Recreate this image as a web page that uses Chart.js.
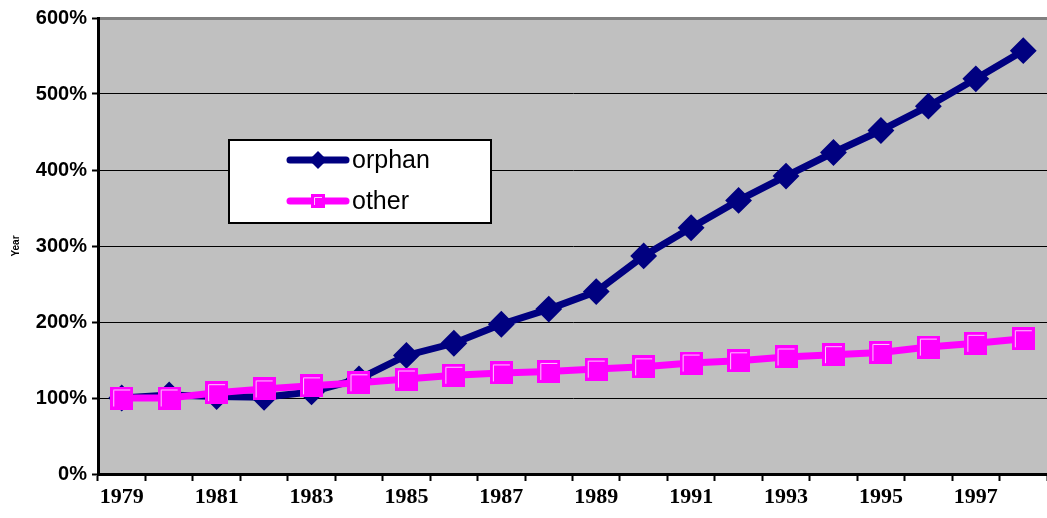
<!DOCTYPE html>
<html>
<head>
<meta charset="utf-8">
<script src="https://cdn.jsdelivr.net/npm/chart.js@4"></script>
<style>
  html, body { margin: 0; padding: 0; background: #fff; }
  #wrap { width: 1047px; height: 518px; }
</style>
</head>
<body>
<div id="wrap"><canvas id="chart" width="1047" height="518"></canvas></div>
<script>
const years = ['1979', '1980', '1981', '1982', '1983', '1984', '1985', '1986', '1987', '1988',
               '1989', '1990', '1991', '1992', '1993', '1994', '1995', '1996', '1997', '1998'];
const orphanValues = [100, 104, 102, 101, 108, 125, 156, 172, 197, 217,
                      240, 287, 324, 360, 392, 423, 452, 484, 520, 557];
const otherValues = [100, 100, 107, 112, 116, 120, 125, 130, 133, 135,
                     138, 141, 146, 149, 154, 157, 160, 167, 172, 178];
const yMax = 600;
const yStep = 100;

const sansFont = "Arial, 'Liberation Sans', sans-serif";
const serifFont = "'Times New Roman', 'Liberation Serif', serif";

// square marker with the little light bevel inside
function makeSquare(size) {
    const c = document.createElement('canvas');
    c.width = size; c.height = size;
    const g = c.getContext('2d');
    g.fillStyle = '#FF00FF';
    g.fillRect(0, 0, size, size);
    g.strokeStyle = '#FFC8FF';
    g.lineWidth = 1;
    g.beginPath();
    g.moveTo(3.5, size - 3);
    g.lineTo(3.5, 3.5);
    g.lineTo(size - 3, 3.5);
    g.stroke();
    return c;
}
const bigSquare = makeSquare(23);
const smallSquare = makeSquare(14);

const plotBackground = {
    id: 'plotBackground',
    beforeDraw(chart) {
        const { ctx, chartArea: a } = chart;
        ctx.save();
        ctx.fillStyle = '#C0C0C0';
        ctx.fillRect(a.left, a.top, a.right - a.left, a.bottom - a.top);
        ctx.restore();
    }
};

const boxLegend = {
    id: 'boxLegend',
    afterDraw(chart) {
        const ctx = chart.ctx;
        const x = 229, y = 140, w = 262, h = 83;
        ctx.save();
        ctx.fillStyle = '#fff';
        ctx.fillRect(x, y, w, h);
        ctx.strokeStyle = '#000';
        ctx.lineWidth = 2;
        ctx.strokeRect(x, y, w, h);
        const rows = [160, 201];
        chart.data.datasets.forEach((ds, i) => {
            const ry = rows[i];
            ctx.strokeStyle = ds.borderColor;
            ctx.lineWidth = 7;
            ctx.lineCap = 'round';
            ctx.beginPath();
            ctx.moveTo(290, ry);
            ctx.lineTo(346, ry);
            ctx.stroke();
            if (i === 0) {
                ctx.fillStyle = ds.borderColor;
                ctx.beginPath();
                ctx.moveTo(318, ry - 9);
                ctx.lineTo(327, ry);
                ctx.lineTo(318, ry + 9);
                ctx.lineTo(309, ry);
                ctx.closePath();
                ctx.fill();
            } else {
                ctx.drawImage(smallSquare, 318 - 7, ry - 7);
            }
            ctx.fillStyle = '#000';
            ctx.font = '25px ' + sansFont;
            ctx.textBaseline = 'middle';
            ctx.textAlign = 'left';
            ctx.fillText(ds.label, 352, ry + 1);
        });
        ctx.restore();
    }
};

new Chart(document.getElementById('chart'), {
    type: 'line',
    data: {
        labels: years,
        datasets: [
            {
                label: 'orphan',
                data: orphanValues,
                borderColor: '#000080',
                backgroundColor: '#000080',
                borderWidth: 7,
                pointStyle: 'rectRot',
                pointRadius: 12,
                pointBorderWidth: 2,
                tension: 0,
                order: 1
            },
            {
                label: 'other',
                data: otherValues,
                borderColor: '#FF00FF',
                backgroundColor: '#FF00FF',
                borderWidth: 7,
                pointStyle: bigSquare,
                tension: 0,
                order: 0
            }
        ]
    },
    options: {
        responsive: false,
        animation: false,
        clip: false,
        layout: { autoPadding: false, padding: { top: 18, right: 0, bottom: 0, left: 0 } },
        plugins: {
            legend: { display: false },
            tooltip: { enabled: false }
        },
        scales: {
            x: {
                offset: true,
                afterFit(scale) {
                    scale.height = 44;
                    scale.paddingLeft = 0;
                    scale.paddingRight = 0;
                },
                grid: {
                    offset: true,
                    drawOnChartArea: false,
                    drawTicks: true,
                    tickLength: 7,
                    tickColor: '#000',
                    tickWidth: 2
                },
                border: { color: '#000', width: 3 },
                ticks: {
                    autoSkip: false,
                    maxRotation: 0,
                    padding: 3,
                    color: '#000',
                    font: { family: serifFont, size: 22, weight: 'bold' },
                    callback(value, index) {
                        return index % 2 === 0 ? this.getLabelForValue(value) : '';
                    }
                }
            },
            y: {
                min: 0,
                max: yMax,
                afterFit(scale) { scale.width = 98; },
                grid: {
                    color: ctx => ctx.tick && ctx.tick.value === yMax ? '#808080' : '#000',
                    lineWidth: ctx => ctx.tick && ctx.tick.value === yMax ? 3 : 1,
                    tickColor: '#000',
                    tickWidth: 2,
                    tickLength: 6
                },
                border: { color: '#000', width: 3 },
                ticks: {
                    stepSize: yStep,
                    padding: 5,
                    color: '#000',
                    font: { family: sansFont, size: 20, weight: 'bold' },
                    callback: v => v + '%'
                },
                title: {
                    display: true,
                    text: 'Year',
                    color: '#000',
                    padding: { top: 10, bottom: 0 },
                    font: { family: sansFont, size: 10, weight: 'bold' }
                }
            }
        }
    },
    plugins: [plotBackground, boxLegend]
});
</script>
</body>
</html>
